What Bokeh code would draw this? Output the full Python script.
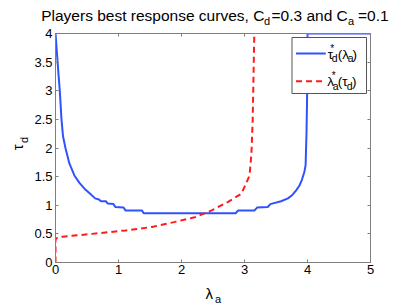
import math
from bokeh.plotting import figure
from bokeh.layouts import column, row
from bokeh.models import Label, BoxAnnotation, Arrow, LinearAxis, FixedTicker, Range1d
from bokeh.embed import file_html
from bokeh.resources import INLINE

# ---- data ----
lam_blue = [0.0, 0.03, 0.05, 0.068, 0.095, 0.12, 0.16, 0.22, 0.30, 0.38, 0.46, 0.55, 0.63, 0.69,
            0.72, 0.80, 0.83, 0.92, 0.95, 1.08, 1.11, 1.37, 1.40, 2.86, 2.90, 3.16, 3.20, 3.37,
            3.41, 3.58, 3.69, 3.76, 3.82, 3.87, 3.91, 3.95, 3.97, 3.985, 3.995, 4.0, 5.0]
tau_blue = [4.0, 3.55, 3.25, 3.0, 2.5, 2.2, 1.99, 1.73, 1.52, 1.39, 1.29, 1.20, 1.12, 1.10,
            1.07, 1.07, 1.03, 1.02, 0.97, 0.96, 0.91, 0.91, 0.86, 0.86, 0.91, 0.91, 0.96, 0.97,
            1.02, 1.07, 1.12, 1.18, 1.26, 1.34, 1.44, 1.58, 1.70, 2.3, 3.0, 4.0, 4.0]

tau_red = [0.0, 0.41, 0.43, 0.45, 0.50, 0.56, 0.62, 0.71, 0.79, 0.91, 1.06, 1.20, 1.32, 1.52,
           1.90, 2.49, 3.95, 4.0]
lam_red = [0.0, 0.0, 0.03, 0.11, 0.58, 1.11, 1.53, 1.90, 2.21, 2.48, 2.74, 2.95, 3.00, 3.08,
           3.11, 3.13, 3.155, 3.16]

x_ticks = [0, 1, 2, 3, 4, 5]
x_tick_labels = ["0", "1", "2", "3", "4", "5"]
y_ticks = [0, 0.5, 1, 1.5, 2, 2.5, 3, 3.5, 4]
y_tick_labels = ["0", "0.5", "1", "1.5", "2", "2.5", "3", "3.5", "4"]

FONT = "Liberation Sans"
BLUE = "#2f52ff"
RED = "#ff1a1a"
GREY = "#7f7f7f"

# ---- page geometry (page pixels) ----
TOTAL_W = 409
TOTAL_H = 304
TOP_H = 27          # title strip: page y 0..27
LEFT_W = 31         # y-label strip: page x 0..31
MAIN_BOTTOM = 279   # main figure: page y 27..279
FX0, FX1, FY0, FY1 = 53, 370, 33, 262   # plot frame on the page

MAIN_W = TOTAL_W - LEFT_W
MAIN_H = MAIN_BOTTOM - TOP_H

p = figure(width=MAIN_W, height=MAIN_H, x_range=(0, 5), y_range=(0, 4),
           output_backend="svg", toolbar_location=None,
           min_border_left=FX0 - LEFT_W, min_border_right=TOTAL_W - FX1,
           min_border_top=FY0 - TOP_H, min_border_bottom=MAIN_BOTTOM - FY1)
p.title.visible = False
p.background_fill_color = "white"
p.border_fill_color = "white"
p.grid.visible = False
p.outline_line_color = GREY
p.outline_line_width = 1

def style_axis(ax, ticks, labels, show_labels, standoff):
    ax.ticker = FixedTicker(ticks=ticks)
    ax.major_label_overrides = {t: s for t, s in zip(ticks, labels)}
    ax.major_tick_in = 3
    ax.major_tick_out = 0
    ax.minor_tick_in = 0
    ax.minor_tick_out = 0
    ax.axis_line_color = GREY
    ax.major_tick_line_color = GREY
    ax.major_label_text_font = FONT
    ax.major_label_text_color = "black"
    ax.major_label_standoff = standoff
    ax.major_label_text_font_size = "13px" if show_labels else "0px"
    if not show_labels:
        ax.major_label_text_alpha = 0

style_axis(p.xaxis[0], x_ticks, x_tick_labels, True, 2)
style_axis(p.yaxis[0], y_ticks, y_tick_labels, True, 3)
top_ax = LinearAxis()
right_ax = LinearAxis()
style_axis(top_ax, x_ticks, x_tick_labels, False, 0)
style_axis(right_ax, y_ticks, y_tick_labels, False, 0)
p.add_layout(top_ax, "above")
p.add_layout(right_ax, "right")

p.line(lam_blue, tau_blue, line_color=BLUE, line_width=2)
p.line(lam_red, tau_red, line_color=RED, line_width=2, line_dash="6 4")

def dx(px):
    return (px - FX0) / (FX1 - FX0) * 5

def dy(py):
    return (FY1 - py) / (FY1 - FY0) * 4

def label(fig, text, x, y, size, angle=0.0):
    fig.add_layout(Label(x=x, y=y, text=text, text_font=FONT,
                         text_font_size=f"{size}px", text_align="left",
                         text_baseline="alphabetic", angle=angle, text_color="black"))

def lab(text, px, py, size):
    label(p, text, dx(px), dy(py), size)

# legend (inside the frame)
p.add_layout(BoxAnnotation(left=dx(291), right=dx(366), top=dy(37), bottom=dy(93),
                           fill_color="white", fill_alpha=1.0,
                           line_color="#555555", line_width=1, line_alpha=1.0))
p.add_layout(Arrow(end=None, x_start=dx(295), y_start=dy(53), x_end=dx(325), y_end=dy(53),
                   line_color=BLUE, line_width=2))
p.add_layout(Arrow(end=None, x_start=dx(295), y_start=dy(80.7), x_end=dx(325), y_end=dy(80.7),
                   line_color=RED, line_width=2, line_dash="6 4"))

lab("τ", 327, 53.5, 13.5)
lab("*", 329.5, 47.5, 10)
lab("d", 331, 57.5, 10.5)
lab("(λ", 337, 53.5, 13.5)
lab("a", 347, 57.5, 10.5)
lab(")", 352, 53.5, 13.5)

lab("λ", 326.5, 81, 13.5)
lab("*", 331, 74.5, 10)
lab("a", 332, 85, 10.5)
lab("(τ", 337, 81, 13.5)
lab("d", 346, 85, 10.5)
lab(")", 351.5, 81, 13.5)

# ---- auxiliary text strips (frame = whole strip, coordinates = local pixels, y down) ----
def strip(w, h):
    f = figure(width=w, height=h, x_range=Range1d(0, w), y_range=Range1d(h, 0),
               output_backend="svg", toolbar_location=None, min_border=0,
               x_axis_type=None, y_axis_type=None)
    f.title.visible = False
    f.outline_line_color = None
    f.background_fill_color = "white"
    f.border_fill_color = "white"
    return f

top = strip(TOTAL_W, TOP_H)
label(top, "Players best response curves, C", 40.7, 15, 15.5)
label(top, "d", 263.5, 20.5, 11)
label(top, "=0.3 and C", 271, 15, 15.5)
label(top, "a", 347.5, 20.5, 11)
label(top, "=0.1", 357.5, 15, 15.5)

left = strip(LEFT_W, MAIN_H)
label(left, "τ", 17, 155.5 - TOP_H, 15, angle=math.pi / 2)
label(left, "d", 23.5, 147.5 - TOP_H, 11, angle=math.pi / 2)

bottom = strip(TOTAL_W, TOTAL_H - MAIN_BOTTOM)
label(bottom, "λ", 205, 292.5 - MAIN_BOTTOM, 15)
label(bottom, "a", 214.5, 298.5 - MAIN_BOTTOM, 11)

layout = column(top, row(left, p, spacing=0), bottom, spacing=0)

open("out.html", "w").write(file_html(layout, INLINE))
